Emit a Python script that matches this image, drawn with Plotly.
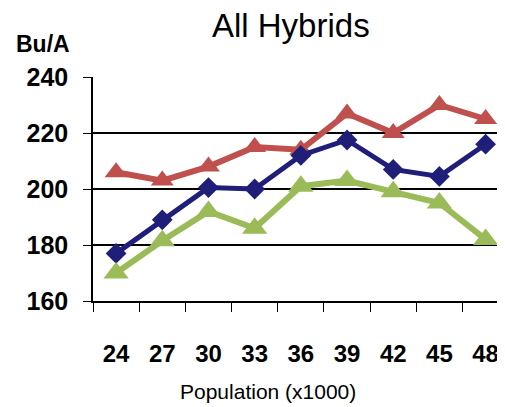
"""All Hybrids: yield vs plant population."""

import plotly.graph_objects as go

populations = ["24", "27", "30", "33", "36", "39", "42", "45", "48"]
red_yield = [206, 203, 208, 215, 214, 227, 220, 230, 225]
blue_yield = [177, 189, 200.5, 200, 212, 217.5, 207, 204.5, 216]
green_yield = [170, 181.5, 192, 186, 201, 203, 199, 195, 182]
y_ticks = [160, 180, 200, 220, 240]

FONT = "Liberation Sans, Arial, sans-serif"

fig = go.Figure()
fig.add_trace(go.Scatter(
    x=populations, y=red_yield, mode="lines+markers",
    line=dict(color="#C0504D", width=6),
    marker=dict(symbol="triangle-up", size=20, color="#C0504D"),
))
fig.add_trace(go.Scatter(
    x=populations, y=blue_yield, mode="lines+markers",
    line=dict(color="#1F1F7A", width=5),
    marker=dict(symbol="diamond", size=16, color="#1F1F7A"),
))
fig.add_trace(go.Scatter(
    x=populations, y=green_yield, mode="lines+markers",
    line=dict(color="#9BBB59", width=6),
    marker=dict(symbol="triangle-up", size=22, color="#9BBB59"),
))

fig.update_layout(
    width=497, height=399,
    margin=dict(l=85, r=0, t=69, b=106),
    paper_bgcolor="white", plot_bgcolor="white",
    showlegend=False,
    font=dict(family=FONT, color="black"),
    title=dict(text="All Hybrids", x=0.569, xanchor="center", y=0.957,
               yanchor="middle", font=dict(size=33, family=FONT)),
    annotations=[
        dict(text="<b>Bu/A</b>", xref="paper", yref="paper",
             x=-0.192, y=1.147, xanchor="left", yanchor="middle",
             showarrow=False, font=dict(size=23, family=FONT)),
        dict(text="Population (x1000)", xref="paper", yref="paper",
             x=0.425, y=-0.402, xanchor="center", yanchor="middle",
             showarrow=False, font=dict(size=21, family=FONT)),
    ],
    xaxis=dict(
        type="category", range=[-0.5, 8.42], showgrid=False,
        showline=True, linecolor="black", linewidth=1.5,
        ticks="outside", ticklen=9, tickcolor="black", tickson="boundaries",
        ticklabelstandoff=30,
        tickfont=dict(size=24, family=FONT, weight="bold"),
    ),
    yaxis=dict(
        range=[160, 240], tickvals=y_ticks,
        showgrid=True, gridcolor="black", gridwidth=1.5,
        showline=True, linecolor="black", linewidth=1.5,
        ticks="outside", ticklen=8, tickcolor="black",
        ticklabelstandoff=10,
        tickfont=dict(size=25, family=FONT, weight="bold"),
        zeroline=False,
    ),
)

fig.write_html("out.html")
